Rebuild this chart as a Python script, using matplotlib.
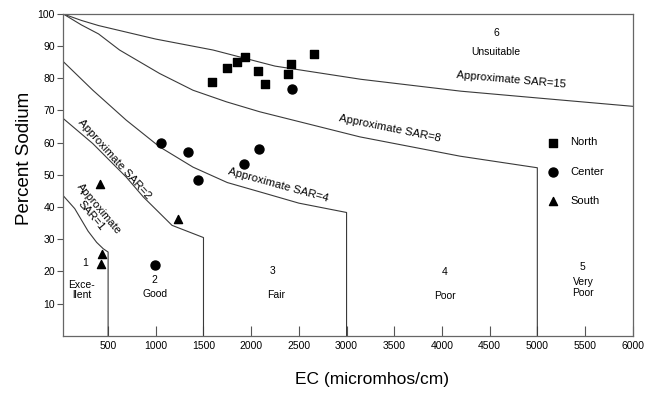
import matplotlib
matplotlib.use('Agg')
import matplotlib.pyplot as plt

plt.rcParams['font.family'] = ['Liberation Sans', 'DejaVu Sans']

# boundary curves (EC, % Na)
sar15_ec = [30, 220, 400, 1000, 1600, 2250, 3150, 4200, 5000, 6000]
sar15_na = [100, 98.0, 96.4, 92.2, 88.8, 83.8, 79.7, 76.0, 73.9, 71.3]
sar8_ec = [30, 220, 400, 620, 1040, 1390, 1740, 2090, 3140, 4190, 5000, 5000]
sar8_na = [100, 96.6, 93.8, 88.8, 81.5, 76.3, 72.7, 69.6, 61.8, 55.8, 52.2, 0]
sar4_ec = [30, 340, 690, 1040, 1390, 1750, 2150, 2500, 3000, 3000]
sar4_na = [85.2, 76.3, 67.0, 58.7, 52.4, 47.6, 44.2, 41.2, 38.3, 0]
sar2_ec = [30, 340, 690, 870, 1170, 1500, 1500]
sar2_na = [67.5, 59.7, 49.3, 43.1, 34.3, 30.5, 0]
sar1_ec = [30, 150, 290, 380, 450, 500, 500]
sar1_na = [43.5, 39.5, 32.5, 29.0, 27.0, 26.0, 0]

# samples
north_ec = [1590, 1745, 1855, 1935, 2070, 2150, 2415, 2385, 2660]
north_na = [78.8, 83.3, 85.2, 86.5, 82.3, 78.2, 84.3, 81.3, 87.7]
center_ec = [1050, 1340, 1440, 2080, 1925, 990, 2430]
center_na = [60.0, 57.1, 48.5, 57.9, 53.3, 22.0, 76.6]
south_ec = [415, 1235, 440, 430]
south_na = [47.2, 36.3, 25.4, 22.3]

fig = plt.figure(figsize=(6.51, 3.94), dpi=100)
ax = fig.add_axes([0.0972, 0.148, 0.8747, 0.8165])

lc = '#3a3a3a'
for xs, ys in [(sar15_ec, sar15_na), (sar8_ec, sar8_na), (sar4_ec, sar4_na),
               (sar2_ec, sar2_na), (sar1_ec, sar1_na)]:
    ax.plot(xs, ys, color=lc, lw=0.8)

ax.scatter(north_ec, north_na, marker='s', s=38, color='black', label='North', zorder=3)
ax.scatter(center_ec, center_na, marker='o', s=42, color='black', label='Center', zorder=3)
ax.scatter(south_ec, south_na, marker='^', s=34, color='black', label='South', zorder=3)

ax.legend(frameon=False, loc='upper left', bbox_to_anchor=(0.842, 0.63),
          fontsize=8, handlelength=1.0, handletextpad=1.1, labelspacing=1.75,
          borderaxespad=0)

# curve labels
ax.text(4728, 79.5, 'Approximate SAR=15', fontsize=8.2, rotation=-5, ha='center', va='center')
ax.text(3458, 64.4, 'Approximate SAR=8', fontsize=8.2, rotation=-11.5, ha='center', va='center')
ax.text(2281, 46.7, 'Approximate SAR=4', fontsize=8.2, rotation=-15.5, ha='center', va='center')
ax.text(563, 55.0, 'Approximate SAR=2', fontsize=8.2, rotation=-48, ha='center', va='center')
ax.text(361, 38.3, 'Approximate\nSAR=1', fontsize=8, rotation=-50, ha='center', va='center',
        linespacing=1.0)

# class labels
fs = 7.5
ax.text(4574, 94.0, '6', fontsize=fs, ha='center', va='center')
ax.text(4568, 88.3, 'Unsuitable', fontsize=fs, ha='center', va='center')
ax.text(257, 22.5, '1', fontsize=fs, ha='center', va='center')
ax.text(222, 14.2, 'Exce-\nllent', fontsize=fs, ha='center', va='center', linespacing=1.1)
ax.text(990, 17.4, '2', fontsize=fs, ha='center', va='center')
ax.text(997, 12.9, 'Good', fontsize=fs, ha='center', va='center')
ax.text(2228, 20.2, '3', fontsize=fs, ha='center', va='center')
ax.text(2257, 12.7, 'Fair', fontsize=fs, ha='center', va='center')
ax.text(4029, 19.9, '4', fontsize=fs, ha='center', va='center')
ax.text(4033, 12.4, 'Poor', fontsize=fs, ha='center', va='center')
ax.text(5474, 21.4, '5', fontsize=fs, ha='center', va='center')
ax.text(5482, 15.0, 'Very\nPoor', fontsize=fs, ha='center', va='center', linespacing=1.1)

ax.set_xlim(30, 6000)
ax.set_ylim(0, 100)
ax.set_xticks(range(500, 6001, 500))
ax.set_yticks(range(10, 101, 10))
ax.tick_params(axis='x', direction='in', length=7, width=0.8, color='#555555',
               labelsize=7.5, pad=4)
ax.tick_params(axis='y', direction='out', length=4, width=0.8, color='#555555',
               labelsize=7.5, pad=2)
for s in ax.spines.values():
    s.set_color('#666666')
    s.set_linewidth(0.9)

ax.set_xlabel('EC (micromhos/cm)', fontsize=12.5)
ax.set_ylabel('Percent Sodium', fontsize=13.5)
ax.xaxis.set_label_coords(0.542, -0.112)
ax.yaxis.set_label_coords(-0.054, 0.55)

fig.savefig('out.png', dpi=100)
